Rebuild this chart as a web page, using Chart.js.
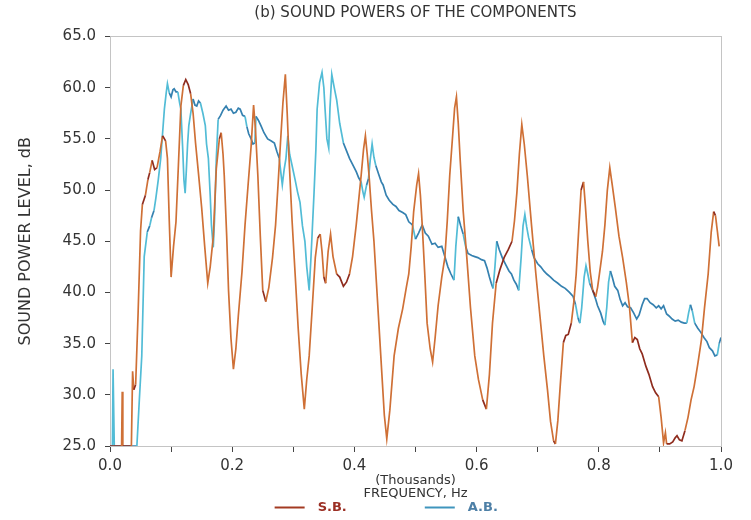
<!DOCTYPE html>
<html>
<head>
<meta charset="utf-8">
<script src="https://cdn.jsdelivr.net/npm/chart.js@4"></script>
<style>
  body { margin: 0; background: #fff; }
</style>
</head>
<body>
<canvas id="powers" width="751" height="520"></canvas>
<script>
// frequency in thousands of Hz, level in dB
const sbFreq = [0.000, 0.019, 0.020, 0.021, 0.035, 0.037, 0.039, 0.042, 0.046, 0.050, 0.053, 0.058, 0.062, 0.065, 0.069, 0.073, 0.077, 0.082, 0.086, 0.091,
  0.094, 0.097, 0.100, 0.104, 0.108, 0.112, 0.116, 0.120, 0.124, 0.128, 0.132, 0.136, 0.140, 0.145, 0.150, 0.155, 0.160, 0.164, 0.169, 0.174,
  0.179, 0.182, 0.185, 0.187, 0.191, 0.194, 0.198, 0.202, 0.206, 0.210, 0.216, 0.221, 0.226, 0.231, 0.235, 0.238, 0.242, 0.246, 0.250, 0.255,
  0.260, 0.266, 0.271, 0.275, 0.279, 0.283, 0.287, 0.290, 0.293, 0.298, 0.303, 0.308, 0.313, 0.318, 0.322, 0.326, 0.331, 0.336, 0.340, 0.344,
  0.347, 0.350, 0.353, 0.357, 0.361, 0.365, 0.371, 0.376, 0.382, 0.387, 0.392, 0.397, 0.403, 0.407, 0.411, 0.415, 0.418, 0.421, 0.424, 0.428,
  0.432, 0.436, 0.440, 0.445, 0.449, 0.453, 0.458, 0.465, 0.472, 0.479, 0.485, 0.489, 0.493, 0.497, 0.502, 0.505, 0.508, 0.511, 0.515, 0.519,
  0.524, 0.528, 0.532, 0.537, 0.543, 0.548, 0.552, 0.556, 0.561, 0.564, 0.567, 0.570, 0.573, 0.578, 0.584, 0.590, 0.597, 0.603, 0.610, 0.616,
  0.621, 0.626, 0.632, 0.638, 0.645, 0.652, 0.658, 0.662, 0.666, 0.670, 0.674, 0.678, 0.683, 0.690, 0.697, 0.704, 0.710, 0.716, 0.721, 0.726,
  0.729, 0.733, 0.737, 0.742, 0.746, 0.750, 0.755, 0.759, 0.763, 0.767, 0.771, 0.775, 0.778, 0.782, 0.786, 0.790, 0.795, 0.798, 0.801, 0.806,
  0.810, 0.814, 0.818, 0.822, 0.827, 0.833, 0.839, 0.845, 0.850, 0.855, 0.859, 0.863, 0.867, 0.871, 0.877, 0.882, 0.888, 0.893, 0.898, 0.902,
  0.906, 0.909, 0.911, 0.916, 0.921, 0.925, 0.928, 0.932, 0.936, 0.941, 0.946, 0.951, 0.956, 0.962, 0.968, 0.973, 0.979, 0.984, 0.988, 0.991,
  0.994, 0.997];
const sbLevel = [25, 25, 30.3, 25, 25, 32.3, 30.5, 31.0, 38.0, 46.0, 48.6, 49.5, 51.0, 51.7, 52.9, 52.0, 52.2, 53.8, 55.3, 54.8,
  53.1, 47.0, 41.5, 44.5, 46.9, 52.5, 58.2, 60.2, 60.8, 60.3, 59.4, 57.5, 54.6, 51.5, 48.3, 44.5, 40.9, 42.5, 45.4, 52.1,
  55.0, 55.6, 53.5, 51.4, 45.5, 40.2, 35.5, 32.5, 34.5, 37.7, 42.0, 46.6, 50.5, 54.3, 58.3, 56.0, 51.4, 45.5, 40.2, 39.1,
  40.5, 43.4, 46.6, 50.5, 54.6, 58.5, 61.3, 57.5, 53.1, 47.0, 41.8, 36.5, 32.0, 28.6, 31.5, 33.8, 38.5, 43.4, 45.3, 45.7,
  44.0, 41.5, 40.9, 44.0, 45.7, 43.5, 41.8, 41.5, 40.6, 41.0, 41.8, 43.5, 46.6, 49.0, 51.4, 54.0, 55.3, 53.5, 51.4, 48.0,
  45.0, 41.0, 37.0, 32.0, 28.0, 25.7, 28.5, 33.8, 36.5, 38.4, 40.5, 41.8, 44.5, 47.9, 50.5, 51.6, 49.5, 46.6, 42.0, 37.0,
  34.5, 33.2, 35.5, 38.7, 41.5, 43.4, 47.0, 51.4, 55.5, 58.0, 59.1, 56.5, 53.1, 48.0, 43.4, 38.5, 33.8, 31.5, 29.5, 28.6,
  32.0, 37.0, 40.9, 42.2, 43.4, 44.2, 45.0, 47.0, 49.8, 53.5, 56.4, 54.5, 51.4, 46.5, 41.8, 37.5, 33.8, 30.5, 27.4, 25.5,
  25.2, 27.5, 31.0, 35.1, 35.8, 35.9, 37.0, 39.0, 41.8, 46.0, 50.0, 50.8, 48.5, 45.0, 42.0, 40.2, 39.6, 40.5, 41.8, 44.0,
  46.6, 50.0, 52.2, 50.5, 48.3, 45.5, 43.4, 41.0, 38.7, 35.1, 35.6, 35.4, 34.5, 34.0, 32.8, 32.0, 30.8, 30.2, 29.8, 27.8,
  25.3, 26.3, 25.2, 25.2, 25.4, 25.8, 26.0, 25.6, 25.5, 26.5, 27.8, 29.5, 30.8, 33.0, 35.4, 38.5, 41.8, 45.9, 47.9, 47.5,
  46.0, 44.5];

const abFreq = [0.000, 0.004, 0.005, 0.007, 0.044, 0.048, 0.052, 0.056, 0.061, 0.065, 0.068, 0.072, 0.075, 0.079, 0.083, 0.086, 0.089, 0.092, 0.094, 0.097,
  0.100, 0.103, 0.105, 0.108, 0.111, 0.114, 0.116, 0.119, 0.121, 0.123, 0.125, 0.127, 0.129, 0.132, 0.136, 0.139, 0.142, 0.145, 0.148, 0.152,
  0.156, 0.158, 0.161, 0.164, 0.166, 0.169, 0.171, 0.174, 0.177, 0.181, 0.185, 0.190, 0.194, 0.198, 0.202, 0.206, 0.210, 0.213, 0.217, 0.221,
  0.224, 0.227, 0.231, 0.234, 0.237, 0.239, 0.243, 0.247, 0.252, 0.258, 0.264, 0.269, 0.273, 0.277, 0.280, 0.282, 0.285, 0.288, 0.291, 0.294,
  0.298, 0.303, 0.307, 0.311, 0.315, 0.319, 0.322, 0.326, 0.329, 0.331, 0.334, 0.337, 0.339, 0.343, 0.347, 0.350, 0.352, 0.355, 0.358, 0.360,
  0.363, 0.367, 0.371, 0.376, 0.382, 0.386, 0.392, 0.397, 0.403, 0.407, 0.411, 0.414, 0.416, 0.420, 0.423, 0.426, 0.429, 0.432, 0.435, 0.440,
  0.444, 0.447, 0.452, 0.457, 0.463, 0.468, 0.473, 0.479, 0.484, 0.489, 0.495, 0.500, 0.505, 0.511, 0.516, 0.521, 0.527, 0.532, 0.537, 0.543,
  0.548, 0.553, 0.558, 0.563, 0.566, 0.570, 0.574, 0.578, 0.582, 0.586, 0.592, 0.597, 0.602, 0.608, 0.613, 0.617, 0.621, 0.624, 0.627, 0.630,
  0.633, 0.637, 0.642, 0.647, 0.653, 0.657, 0.661, 0.665, 0.669, 0.673, 0.676, 0.679, 0.682, 0.685, 0.690, 0.694, 0.700, 0.705, 0.710, 0.715,
  0.721, 0.726, 0.733, 0.739, 0.745, 0.752, 0.758, 0.762, 0.766, 0.769, 0.772, 0.776, 0.779, 0.782, 0.785, 0.790, 0.795, 0.798, 0.803, 0.807,
  0.810, 0.813, 0.816, 0.819, 0.822, 0.826, 0.831, 0.835, 0.839, 0.843, 0.847, 0.852, 0.857, 0.862, 0.866, 0.871, 0.875, 0.879, 0.884, 0.889,
  0.894, 0.898, 0.902, 0.906, 0.911, 0.915, 0.920, 0.925, 0.930, 0.935, 0.940, 0.944, 0.947, 0.950, 0.953, 0.957, 0.962, 0.967, 0.972, 0.977,
  0.981, 0.986, 0.990, 0.994, 0.997, 1.000];
const abLevel = [25, 25, 32.5, 25, 25, 29.5, 33.8, 43.5, 45.9, 46.5, 47.3, 48.0, 49.2, 51.0, 53.1, 55.5, 57.9, 59.5, 60.4, 59.5,
  59.1, 59.8, 59.9, 59.6, 59.6, 58.5, 57.9, 54.0, 51.0, 49.7, 52.0, 54.5, 56.3, 57.5, 58.9, 58.3, 58.2, 58.7, 58.5, 57.5,
  56.3, 54.5, 53.1, 49.5, 46.6, 44.4, 47.0, 53.1, 56.9, 57.3, 57.8, 58.2, 57.8, 57.9, 57.5, 57.6, 58.0, 57.9, 57.3, 57.2,
  56.2, 55.5, 55.0, 54.5, 54.6, 57.2, 56.8, 56.3, 55.6, 55.0, 54.8, 54.6, 53.8, 53.1, 51.5, 50.5, 52.0, 53.1, 55.3, 53.5,
  52.4, 51.0, 49.8, 48.8, 46.5, 45.0, 42.5, 40.2, 43.5, 46.0, 49.8, 54.0, 57.9, 60.5, 61.5, 60.0, 57.9, 55.0, 54.1, 58.0,
  61.3, 60.0, 58.8, 56.5, 54.6, 54.0, 53.1, 52.5, 51.8, 51.2, 50.8, 49.8, 49.3, 50.5, 51.1, 53.0, 54.5, 53.2, 52.4, 51.5,
  50.8, 50.5, 49.5, 49.0, 48.6, 48.4, 48.0, 47.8, 47.6, 46.9, 46.6, 45.2, 45.8, 46.6, 45.8, 45.5, 44.7, 44.8, 44.4, 44.5,
  43.5, 42.5, 41.8, 41.2, 44.5, 47.4, 46.5, 45.7, 44.5, 43.8, 43.6, 43.5, 43.4, 43.2, 43.1, 42.4, 41.5, 40.9, 40.4, 42.5,
  45.0, 44.2, 43.4, 42.8, 42.1, 41.8, 41.2, 40.8, 40.2, 43.5, 46.5, 47.6, 46.4, 45.4, 44.2, 43.4, 42.8, 42.5, 42.1, 41.8,
  41.5, 41.2, 40.9, 40.6, 40.4, 40.0, 39.6, 38.8, 37.5, 37.0, 38.5, 41.5, 42.6, 41.8, 40.9, 40.2, 39.3, 38.7, 38.0, 37.2,
  36.8, 38.5, 41.0, 42.1, 41.5, 40.6, 40.2, 39.3, 38.7, 39.0, 38.6, 38.5, 38.0, 37.4, 37.8, 38.8, 39.4, 39.4, 39.0, 38.8,
  38.5, 38.7, 38.4, 38.7, 37.9, 37.7, 37.4, 37.2, 37.3, 37.1, 37.0, 37.0, 38.0, 38.8, 38.2, 37.0, 36.5, 36.1, 35.6, 35.2,
  34.6, 34.3, 33.8, 33.9, 35.0, 35.6];

const xTickValues = [0.0, 0.1, 0.2, 0.3, 0.4, 0.5, 0.6, 0.7, 0.8, 0.9, 1.0];
const yTickValues = [25, 30, 35, 40, 45, 50, 55, 60, 65];
const legendText = ["\u2002S.B.\u2003\u2003\u2003\u2003\u2003\u2003", "\u2002A.B.\u2003\u2003\u2003\u2003\u2002"];
const legendLine = ["#a33a22", "#3f95bd"];
const legendInk = ["#9b2f24", "#4d7fa6"];

const fontFamily = "'DejaVu Sans', sans-serif";

// pen looks lighter on the steep strokes, darker where it moves slowly
function penColor(steep, flat) {
    return function(ctx) {
        const dx = Math.abs(ctx.p1.x - ctx.p0.x) || 0.01;
        const dy = Math.abs(ctx.p1.y - ctx.p0.y);
        return dy / dx > 4 ? steep : flat;
    };
}

function toPoints(xs, ys) {
    return xs.map((x, i) => ({x: x, y: ys[i]}));
}

const frame = {display: true, color: "#c4c4c4", width: 1, dash: [2, 3]};

new Chart(document.getElementById("powers"), {
    type: "line",
    data: {
        datasets: [
            {
                label: "S.B.",
                data: toPoints(sbFreq, sbLevel),
                borderColor: "#a33a22",
                borderWidth: 1.7,
                pointRadius: 0,
                segment: {borderColor: penColor("#cf7036", "#8f2c1e")},
            },
            {
                label: "A.B.",
                data: toPoints(abFreq, abLevel),
                borderColor: "#3f95bd",
                borderWidth: 1.7,
                pointRadius: 0,
                segment: {borderColor: penColor("#52bcd6", "#3581b0")},
            },
        ],
    },
    options: {
        responsive: false,
        animation: false,
        layout: {padding: {left: 18, right: 22, top: 0, bottom: -4}},
        plugins: {
            tooltip: {enabled: false},
            title: {
                display: true,
                text: "(b) SOUND POWERS OF THE COMPONENTS",
                fullSize: false,
                color: "#333",
                font: {family: fontFamily, size: 15, weight: "normal", lineHeight: 1.1},
                padding: {top: 5, bottom: 7},
            },
            legend: {
                position: "bottom",
                fullSize: false,
                labels: {
                    boxWidth: 30,
                    boxHeight: 2,
                    padding: 0,
                    font: {family: fontFamily, size: 13, weight: "bold"},
                    generateLabels: (chart) => chart.data.datasets.map((ds, i) => ({
                        text: legendText[i],
                        fillStyle: legendLine[i],
                        strokeStyle: legendLine[i],
                        lineWidth: 0,
                        fontColor: legendInk[i],
                        datasetIndex: i,
                        hidden: false,
                    })),
                },
            },
        },
        scales: {
            x: {
                type: "linear",
                position: "bottom",
                min: 0,
                max: 1,
                afterBuildTicks: (scale) => { scale.ticks = xTickValues.map(v => ({value: v})); },
                afterFit: (scale) => { scale.height = 55; },
                ticks: {
                    autoSkip: false,
                    maxRotation: 0,
                    padding: 5,
                    color: "#333",
                    font: {family: fontFamily, size: 15},
                    callback: (v) => Math.round(v * 10) % 2 === 0 ? v.toFixed(1) : "",
                },
                grid: {display: true, drawOnChartArea: false, drawTicks: true, tickLength: 6, tickColor: "#444"},
                border: frame,
                title: {
                    display: true,
                    text: ["(Thousands)", "FREQUENCY, Hz"],
                    color: "#333",
                    font: {family: fontFamily, size: 13, lineHeight: 1},
                    padding: {top: 0, bottom: 1},
                },
            },
            xTop: {
                type: "linear",
                position: "top",
                min: 0,
                max: 1,
                ticks: {display: false},
                grid: {display: false},
                border: frame,
            },
            y: {
                type: "linear",
                position: "left",
                min: 25,
                max: 65,
                afterBuildTicks: (scale) => { scale.ticks = yTickValues.map(v => ({value: v})); },
                afterFit: (scale) => { scale.width = 92; },
                ticks: {
                    padding: 9,
                    color: "#333",
                    font: {family: fontFamily, size: 15},
                    callback: (v) => v.toFixed(1),
                },
                grid: {display: true, drawOnChartArea: false, drawTicks: true, tickLength: 5, tickColor: "#444"},
                border: frame,
                title: {
                    display: true,
                    text: "SOUND POWER LEVEL, dB",
                    color: "#333",
                    font: {family: fontFamily, size: 16, lineHeight: 1},
                    padding: {top: 0, bottom: 0},
                },
            },
            yRight: {
                type: "linear",
                position: "right",
                min: 25,
                max: 65,
                ticks: {display: false},
                grid: {display: false},
                border: frame,
            },
        },
    },
});
</script>
</body>
</html>
